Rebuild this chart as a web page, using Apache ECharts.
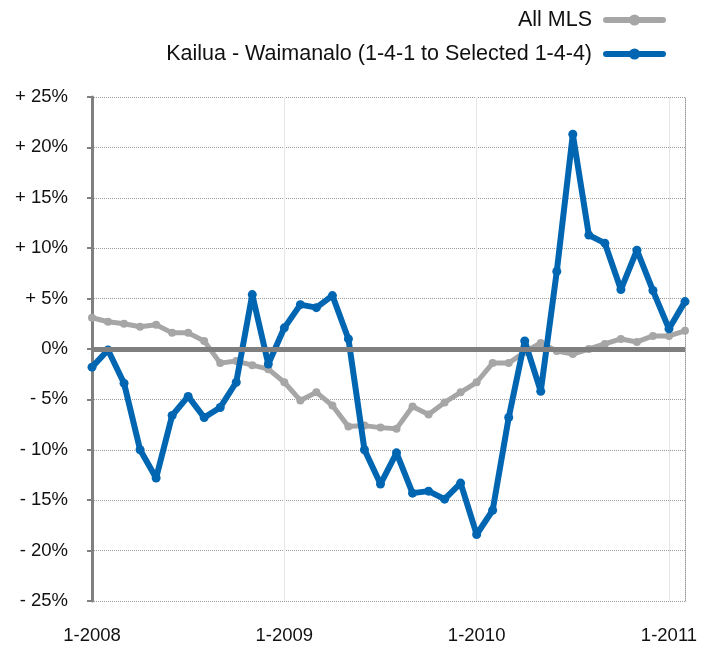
<!DOCTYPE html>
<html>
<head>
<meta charset="utf-8">
<script src="https://cdn.jsdelivr.net/npm/echarts@6/dist/echarts.min.js"></script>
<style>
  html, body { margin: 0; padding: 0; background: #fff; }
  #chart { width: 709px; height: 645px; }
</style>
</head>
<body>
<div id="chart"></div>
<script>
// monthly categories, Jan 2008 .. Feb 2011
const months = [
  '1-2008', '2-2008', '3-2008', '4-2008', '5-2008', '6-2008', '7-2008', '8-2008', '9-2008', '10-2008', '11-2008', '12-2008',
  '1-2009', '2-2009', '3-2009', '4-2009', '5-2009', '6-2009', '7-2009', '8-2009', '9-2009', '10-2009', '11-2009', '12-2009',
  '1-2010', '2-2010', '3-2010', '4-2010', '5-2010', '6-2010', '7-2010', '8-2010', '9-2010', '10-2010', '11-2010', '12-2010',
  '1-2011', '2-2011'
]

const allMls = [
  3.1, 2.7, 2.5, 2.2, 2.4, 1.6, 1.6, 0.8, -1.4, -1.2, -1.6, -2.0,
  -3.3, -5.1, -4.3, -5.6, -7.7, -7.6, -7.8, -7.9, -5.7, -6.5, -5.3, -4.3,
  -3.3, -1.4, -1.4, -0.3, 0.6, -0.2, -0.5, 0.0, 0.5, 1.0, 0.7, 1.3,
  1.3, 1.8
]

const kailua = [
  -1.8, -0.1, -3.4, -10.0, -12.8, -6.6, -4.7, -6.8, -5.8, -3.3, 5.4, -1.5,
  2.1, 4.4, 4.1, 5.3, 1.0, -10.0, -13.4, -10.3, -14.3, -14.1, -14.9, -13.3,
  -18.4, -16.0, -6.8, 0.8, -4.2, 7.7, 21.3, 11.3, 10.5, 5.9, 9.8, 5.8,
  2.0, 4.7
]

const seriesNames = ['All MLS', 'Kailua - Waimanalo (1-4-1 to Selected 1-4-4)']

const yMin = -25
const yMax = 25
const yStep = 5

const FONT = '"Liberation Sans", Arial, Helvetica, sans-serif'
const yearTick = (idx) => idx % 12 === 0

const fmtPct = (v) => {
  if (v > 0) return '+ ' + v + '%'
  if (v < 0) return '- ' + Math.abs(v) + '%'
  return '0%'
}

const chart = echarts.init(document.getElementById('chart'), null, { renderer: 'canvas' })

chart.setOption({
  animation: false,
  backgroundColor: '#fff',
  textStyle: { fontFamily: FONT },
  legend: {
    orient: 'vertical',
    right: 38,
    top: 4,
    align: 'right',
    itemWidth: 57,
    itemHeight: 14,
    itemGap: 12,
    data: seriesNames,
    lineStyle: { width: 6, cap: 'round' },
    textStyle: {
      fontFamily: FONT,
      fontSize: 21.5,
      color: '#111',
      padding: [0, 9, 0, 0]
    }
  },
  grid: { left: 92, right: 24, top: 97, bottom: 42 },
  xAxis: {
    type: 'category',
    data: months,
    boundaryGap: false,
    axisLine: { lineStyle: { color: '#a8a8a8', width: 2 } },
    axisTick: { show: false },
    axisLabel: {
      interval: yearTick,
      margin: 25,
      fontSize: 18.5,
      color: '#111',
      fontFamily: FONT
    },
    splitLine: {
      show: true,
      interval: yearTick,
      lineStyle: { color: '#e6e6e6', width: 1 }
    }
  },
  yAxis: [
    {
      type: 'value',
      min: yMin,
      max: yMax,
      interval: yStep,
      axisLine: { show: true, lineStyle: { color: '#808080', width: 3 } },
      axisTick: { show: true, length: 5, lineStyle: { color: '#808080', width: 2 } },
      axisLabel: {
        margin: 24,
        fontSize: 18.5,
        color: '#111',
        fontFamily: FONT,
        formatter: fmtPct
      },
      splitLine: {
        show: true,
        lineStyle: { color: '#9a9a9a', type: 'dotted', width: 1 }
      }
    },
    {
      type: 'value',
      position: 'right',
      min: yMin,
      max: yMax,
      interval: yStep,
      axisLine: { show: true, lineStyle: { color: '#9a9a9a', type: 'dotted', width: 1 } },
      axisTick: { show: false },
      axisLabel: { show: false },
      splitLine: { show: false }
    }
  ],
  series: [
    {
      // zero reference line, kept beneath the data lines
      type: 'line',
      data: [],
      z: 1,
      silent: true,
      markLine: {
        silent: true,
        symbol: 'none',
        label: { show: false },
        lineStyle: { color: '#7f7f7f', width: 5, type: 'solid' },
        data: [{ yAxis: 0 }]
      }
    },
    {
      name: seriesNames[0],
      type: 'line',
      data: allMls,
      symbol: 'circle',
      symbolSize: 8,
      itemStyle: { color: '#a6a6a6' },
      lineStyle: { color: '#a6a6a6', width: 5 },
      z: 3
    },
    {
      name: seriesNames[1],
      type: 'line',
      data: kailua,
      symbol: 'circle',
      symbolSize: 9,
      itemStyle: { color: '#0066b2' },
      lineStyle: { color: '#0066b2', width: 6 },
      z: 4
    }
  ]
})
</script>
</body>
</html>
